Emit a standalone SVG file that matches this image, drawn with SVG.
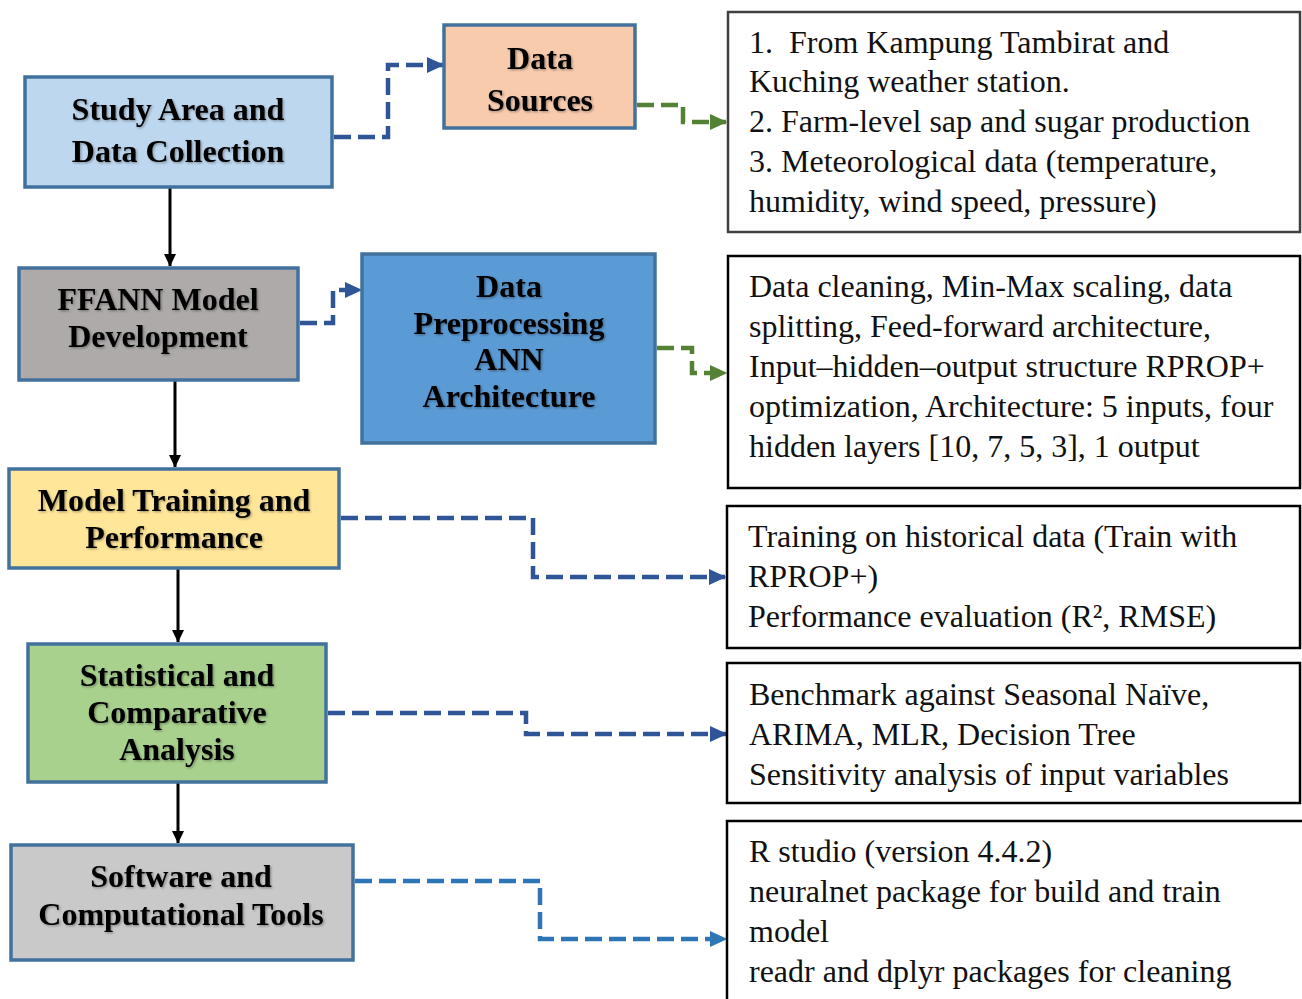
<svg xmlns="http://www.w3.org/2000/svg" width="1302" height="999" viewBox="0 0 1302 999">
<defs>
<style>
.node rect{stroke:#41719C;stroke-width:3.5}
.nt{font-family:"Liberation Serif","Times New Roman",serif;font-weight:bold;font-size:32px;fill:#000;text-anchor:middle;filter:url(#sh)}
.bt{font-family:"Liberation Serif","Times New Roman",serif;font-size:32px;fill:#111}
.box{fill:#fff;stroke:#000;stroke-width:2.5}
.dash{fill:none;stroke-width:4.5;stroke-dasharray:17,7}
.blue{stroke:#2F5597}
.green{stroke:#548235}
.lblue{stroke:#2E75B6}
.solid{fill:none;stroke:#000;stroke-width:3}
</style>
<filter id="sh" x="-10%" y="-10%" width="120%" height="130%">
<feDropShadow dx="1.2" dy="1.2" stdDeviation="0.8" flood-color="#000" flood-opacity="0.35"/>
</filter>
<marker id="ab" markerWidth="4.5" markerHeight="4.5" refX="3.6" refY="2.25" orient="auto" markerUnits="strokeWidth"><path d="M0,0.45 L3.9,2.25 L0,4.05 Z" fill="#2F5597"/></marker>
<marker id="ag" markerWidth="4.5" markerHeight="4.5" refX="3.6" refY="2.25" orient="auto" markerUnits="strokeWidth"><path d="M0,0.45 L3.9,2.25 L0,4.05 Z" fill="#548235"/></marker>
<marker id="al" markerWidth="4.5" markerHeight="4.5" refX="3.6" refY="2.25" orient="auto" markerUnits="strokeWidth"><path d="M0,0.45 L3.9,2.25 L0,4.05 Z" fill="#2E75B6"/></marker>
<marker id="ak" markerWidth="5" markerHeight="5" refX="4" refY="2.5" orient="auto" markerUnits="strokeWidth"><path d="M0,0.5 L4.2,2.5 L0,4.5 Z" fill="#000"/></marker>
</defs>
<rect width="1302" height="999" fill="#fff"/>

<g id="connectors">
<path class="solid" d="M170,188 V266" marker-end="url(#ak)"/>
<path class="solid" d="M175,381 V467" marker-end="url(#ak)"/>
<path class="solid" d="M178,569 V642" marker-end="url(#ak)"/>
<path class="solid" d="M178,783 V843" marker-end="url(#ak)"/>
<path class="dash blue" d="M334,137 H388 V65 H443" marker-end="url(#ab)"/>
<path class="dash green" d="M637,105 H683 V122 H726" marker-end="url(#ag)"/>
<path class="dash blue" d="M300,323 H333 V290 H361" marker-end="url(#ab)"/>
<path class="dash green" d="M657,348 H692 V373 H726" marker-end="url(#ag)"/>
<path class="dash blue" d="M341,518 H533 V577 H725" marker-end="url(#ab)"/>
<path class="dash blue" d="M328,713 H526 V734 H726" marker-end="url(#ab)"/>
<path class="dash lblue" d="M355,881 H540 V939 H726" marker-end="url(#al)"/>
</g>

<g id="study" class="node"><rect x="25" y="77" width="307" height="110" fill="#BDD7EE"/>
<text class="nt" x="178" y="120">Study Area and</text><text class="nt" x="178" y="162">Data Collection</text></g>

<g id="sources" class="node"><rect x="444" y="25" width="191" height="103" fill="#F8CBAD"/>
<text class="nt" x="540" y="69">Data</text><text class="nt" x="540" y="111">Sources</text></g>

<g id="ffann" class="node"><rect x="19" y="268" width="279" height="112" fill="#AEAAAA"/>
<text class="nt" x="158" y="310">FFANN Model</text><text class="nt" x="158" y="347">Development</text></g>

<g id="preproc" class="node"><rect x="362" y="254" width="293" height="189" fill="#5B9BD5"/>
<text class="nt" x="509" y="297">Data</text><text class="nt" x="509" y="334">Preprocessing</text><text class="nt" x="509" y="370">ANN</text><text class="nt" x="509" y="407">Architecture</text></g>

<g id="training" class="node"><rect x="9" y="469" width="330" height="99" fill="#FFE699"/>
<text class="nt" x="174" y="511">Model Training and</text><text class="nt" x="174" y="548">Performance</text></g>

<g id="stat" class="node"><rect x="28" y="644" width="298" height="138" fill="#A9D18E"/>
<text class="nt" x="177" y="686">Statistical and</text><text class="nt" x="177" y="723">Comparative</text><text class="nt" x="177" y="760">Analysis</text></g>

<g id="software" class="node"><rect x="11" y="845" width="342" height="115" fill="#C9C9C9"/>
<text class="nt" x="181" y="887">Software and</text><text class="nt" x="181" y="925">Computational Tools</text></g>

<g id="boxA"><rect class="box" x="728" y="12" width="572" height="220" style="stroke:#404040"/>
<text class="bt" x="749" y="53" xml:space="preserve">1.  From Kampung Tambirat and</text>
<text class="bt" x="749" y="92">Kuching weather station.</text>
<text class="bt" x="749" y="132">2. Farm-level sap and sugar production</text>
<text class="bt" x="749" y="172">3. Meteorological data (temperature,</text>
<text class="bt" x="749" y="212">humidity, wind speed, pressure)</text></g>

<g id="boxB"><rect class="box" x="728" y="256" width="572" height="232"/>
<text class="bt" x="749" y="297">Data cleaning, Min-Max scaling, data</text>
<text class="bt" x="749" y="337">splitting, Feed-forward architecture,</text>
<text class="bt" x="749" y="377">Input–hidden–output structure RPROP+</text>
<text class="bt" x="749" y="417">optimization, Architecture: 5 inputs, four</text>
<text class="bt" x="749" y="457">hidden layers [10, 7, 5, 3], 1 output</text></g>

<g id="boxC"><rect class="box" x="727" y="506" width="573" height="142"/>
<text class="bt" x="748" y="547">Training on historical data (Train with</text>
<text class="bt" x="748" y="587">RPROP+)</text>
<text class="bt" x="748" y="627">Performance evaluation (R², RMSE)</text></g>

<g id="boxD"><rect class="box" x="727" y="663" width="573" height="140"/>
<text class="bt" x="749" y="705">Benchmark against Seasonal Naïve,</text>
<text class="bt" x="749" y="745">ARIMA, MLR, Decision Tree</text>
<text class="bt" x="749" y="785">Sensitivity analysis of input variables</text></g>

<g id="boxE"><path class="box" d="M727,1005 V821 H1305" fill="none"/>
<text class="bt" x="749" y="862">R studio (version 4.4.2)</text>
<text class="bt" x="749" y="902">neuralnet package for build and train</text>
<text class="bt" x="749" y="942">model</text>
<text class="bt" x="749" y="982">readr and dplyr packages for cleaning</text></g>
</svg>
